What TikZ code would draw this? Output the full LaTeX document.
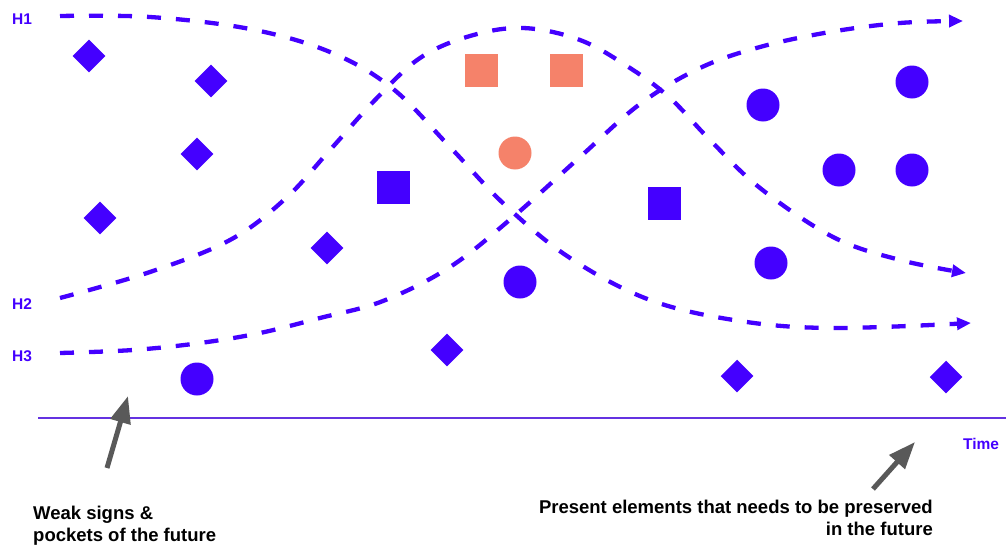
\documentclass[tikz,border=0pt]{standalone}
\usepackage{fontspec}
\setmainfont{Liberation Sans}
\usetikzlibrary{arrows.meta}
\definecolor{hblue}{RGB}{68,0,255}
\definecolor{salmon}{RGB}{245,130,106}
\definecolor{axiscol}{RGB}{100,50,225}
\definecolor{garrow}{RGB}{89,89,89}
\begin{document}
\begin{tikzpicture}[x=1pt,y=-1pt,
 horizon/.style={hblue, line width=4.3pt, dash pattern=on 14pt off 15pt, -{Triangle[length=14pt,width=12pt]}},
 dia/.style={fill=hblue, rotate=45, minimum size=23pt, inner sep=0pt},
 sq/.style={fill=hblue, minimum size=33pt, inner sep=0pt},
 dot/.style={circle, fill=hblue, minimum size=33pt, inner sep=0pt},
 ssq/.style={sq, fill=salmon},
 sdot/.style={dot, fill=salmon},
 hlabel/.style={text=hblue, font=\bfseries\fontsize{15.5}{18}\selectfont, anchor=base west, inner sep=0pt},
 note/.style={font=\bfseries\fontsize{18.5}{21.5}\selectfont, inner sep=0pt},
 pointer/.style={garrow, line width=5pt, -{Triangle[length=27pt,width=20pt]}}
]
\fill[white] (0,0) rectangle (1006,546);
\useasboundingbox (0,0) rectangle (1006,546);

% labels
\node[hlabel] (lh1) at (12,24) {H1};
\node[hlabel] (lh2) at (12,309) {H2};
\node[hlabel] (lh3) at (12,361) {H3};
\node[hlabel] (time) at (963,449) {Time};

% shapes
\node[dia] (d1) at (89,56) {};
\node[dia] (d2) at (211,81) {};
\node[dia] (d3) at (197,154) {};
\node[dia] (d4) at (100,218) {};
\node[dia] (d5) at (327,248) {};
\node[dia] (d6) at (447,350) {};
\node[dia] (d7) at (737,376) {};
\node[dia] (d8) at (946,377) {};
\node[sq] (s1) at (393,187) {};
\node[sq] (s2) at (664,203) {};
\node[ssq] (r1) at (481,70) {};
\node[ssq] (r2) at (566,70) {};
\node[sdot] (rc) at (515,153) {};
\node[dot] (c1) at (197,379) {};
\node[dot] (c2) at (520,282) {};
\node[dot] (c3) at (763,105) {};
\node[dot] (c4) at (912,82) {};
\node[dot] (c5) at (839,170) {};
\node[dot] (c6) at (912,170) {};
\node[dot] (c7) at (771,263) {};

% horizons
\coordinate (h1s) at (60,16);
\coordinate (h1e) at (971,323);
\coordinate (h2s) at (60,298);
\coordinate (h2e) at (966,273);
\coordinate (h3s) at (60,353);
\coordinate (h3e) at (963,21);
\draw[horizon] plot[smooth, tension=0.6] coordinates {(h1s) (150,17) (250,29) (330,52) (392,88) (450,147) (505,205) (570,258) (650,300) (740,321) (833,328) (h1e)};
\draw[horizon] plot[smooth, tension=0.6] coordinates {(h2s) (150,272) (230,240) (285,199) (330,150) (375,100) (420,58) (470,36) (523,28) (580,40) (630,68) (670,98) (710,140) (760,188) (833,237) (900,260) (h2e)};
\draw[horizon] plot[smooth, tension=0.6] coordinates {(h3s) (133,350) (200,343) (260,333) (320,318) (383,301) (450,267) (513,217) (580,157) (640,104) (700,68) (760,47) (830,32) (900,23) (h3e)};

% time axis
\coordinate (ax0) at (38,418);
\coordinate (ax1) at (1006,418);
\draw[axiscol, line width=2pt] (ax0) -- (ax1);

% notes
\node[note, anchor=north west, align=left] (weak) at (33,506) {Weak signs \&\\pockets of the future};
\node[note, anchor=north east, align=right] (present) at (933,500) {Present elements that needs to be preserved\\in the future};
\coordinate (p1t) at (107,468);
\coordinate (p1h) at (128,396);
\coordinate (p2t) at (873,489);
\coordinate (p2h) at (915,442);
\draw[pointer] (p1t) -- (p1h);
\draw[pointer] (p2t) -- (p2h);
\end{tikzpicture}
\end{document}
